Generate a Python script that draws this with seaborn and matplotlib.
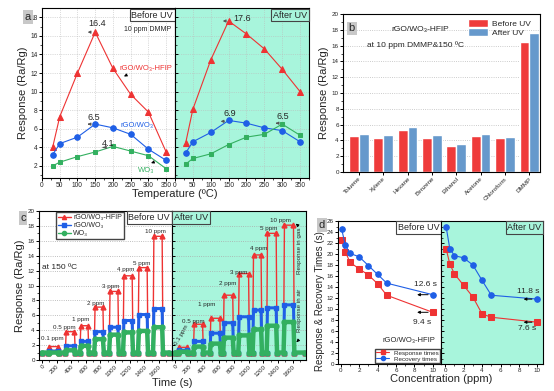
import numpy as np
import pandas as pd
import matplotlib
matplotlib.use("Agg")
import matplotlib.pyplot as plt
from matplotlib.lines import Line2D
from matplotlib.patches import Patch
import seaborn as sns

# --- panel a: response vs. operating temperature (10 ppm DMMP) ---
temps = [30, 50, 100, 150, 200, 250, 300, 350]
a_before_hfip = [4.0, 7.3, 12.0, 16.4, 12.5, 9.7, 7.8, 3.5]
a_before_rgo = [3.2, 4.4, 5.1, 6.5, 6.1, 5.4, 3.8, 2.6]
a_before_wo3 = [2.0, 2.4, 3.0, 3.5, 4.1, 3.6, 3.1, 1.7]
a_after_hfip = [4.5, 8.1, 13.4, 17.6, 16.2, 14.6, 12.4, 10.0]
a_after_rgo = [3.4, 4.6, 5.6, 6.9, 6.6, 6.1, 5.8, 4.6]
a_after_wo3 = [2.2, 2.8, 3.3, 4.3, 5.1, 5.4, 6.5, 5.3]

# --- panel b: selectivity at 10 ppm, 150 C ---
gases = ['Toluene', 'Xylene', 'Hexane', 'Benzene', 'Ethanol', 'Acetone', 'Chloroform', 'DMMP']
b_before = [4.55, 4.35, 5.35, 4.35, 3.25, 4.55, 4.25, 16.4]
b_after = [4.85, 4.65, 5.65, 4.65, 3.5, 4.75, 4.45, 17.6]

# --- panel c: dynamic response, pulses of 0.1 ... 10 ppm ---
c_conc = ['0.1 ppm', '0.5 ppm', '1 ppm', '2 ppm', '3 ppm', '4 ppm', '5 ppm', '10 ppm']
c_base = 1.0
c_before_on = [90, 320, 520, 715, 920, 1110, 1315, 1520]
c_before_off = [215, 445, 630, 835, 1040, 1235, 1440, 1645]
c_before_hfip = [1.8, 3.8, 4.6, 7.1, 9.2, 11.3, 12.4, 16.6]
c_before_rgo = [1.2, 1.9, 2.5, 3.8, 4.4, 5.3, 6.1, 6.9]
c_before_wo3 = [1.0, 1.3, 1.9, 2.8, 3.4, 3.7, 3.9, 4.4]
c_after_on = [45, 250, 475, 655, 860, 1055, 1245, 1475]
c_after_off = [170, 375, 610, 785, 1000, 1170, 1375, 1610]
c_after_hfip = [1.7, 4.8, 5.6, 8.7, 11.6, 14.1, 17.0, 18.1]
c_after_rgo = [1.3, 2.5, 3.6, 5.0, 5.8, 6.7, 7.0, 7.4]
c_after_wo3 = [1.1, 1.8, 2.2, 3.0, 3.3, 4.1, 4.6, 5.1]

# --- panel d: response / recovery times ---
conc = [0.1, 0.5, 1, 2, 3, 4, 5, 10]
d_before_resp = [22.5, 20.4, 18.5, 17.3, 16.2, 14.6, 12.5, 9.4]
d_before_rec = [24.5, 21.6, 20.1, 19.5, 17.9, 16.3, 14.7, 12.6]
d_after_resp = [21.0, 18.2, 16.4, 14.3, 12.2, 9.1, 8.5, 7.6]
d_after_rec = [25.0, 21.0, 19.7, 19.3, 18.0, 15.2, 12.5, 11.8]

RED = '#ee3333'
BLUE = '#1f5fe6'
GREEN = '#33b060'
BAR_RED = '#ef3b3b'
BAR_BLUE = '#6699cc'
MINT = '#a8f5dc'

sns.set_theme(style='ticks')
plt.rcParams['font.family'] = ['Liberation Sans', 'DejaVu Sans']
plt.rcParams['axes.linewidth'] = 0.8
plt.rcParams['xtick.major.width'] = 0.7
plt.rcParams['ytick.major.width'] = 0.7
plt.rcParams['xtick.minor.width'] = 0.5
plt.rcParams['ytick.minor.width'] = 0.5
plt.rcParams['axes.edgecolor'] = 'black'

fig = plt.figure(figsize=(5.54, 3.91), dpi=100)


def px_axes(x0, y0, x1, y1):
    # pixel box (top-left origin) -> figure axes
    return fig.add_axes([x0 / 554, 1 - y1 / 391, (x1 - x0) / 554, (y1 - y0) / 391])


def style(ax, fs=5.0, inner=False):
    ax.tick_params(axis='both', which='major', labelsize=fs, length=2.0, pad=1.0, color='black')
    ax.tick_params(axis='both', which='minor', length=1.2, color='black')
    if inner:
        ax.tick_params(axis='y', which='both', direction='in', labelleft=False)
    for s in ax.spines.values():
        s.set_visible(True)
        s.set_color('black')


def uv_box(ax, x, y, text, fc, ha='right'):
    ax.text(x, y, text, transform=ax.transAxes, ha=ha, va='top', fontsize=6.5,
            bbox=dict(boxstyle='square,pad=0.2', fc=fc, ec='#444444', lw=0.8), zorder=10)


def panel_tag(x, y, letter):
    fig.text(x / 554, 1 - y / 391, letter, ha='center', va='center', fontsize=8,
             bbox=dict(boxstyle='square,pad=0.15', fc='#c8c8c8', ec='none'))


def arrow(ax, tail, head, color='#555555'):
    ax.annotate('', xy=head, xytext=tail,
                arrowprops=dict(arrowstyle='-|>', color=color, lw=0.7, mutation_scale=4))


# ================= panel a =================
axa1 = px_axes(42, 8, 175, 178)
axa2 = px_axes(175, 8, 309, 178)
axa2.set_facecolor(MINT)
for ax, h, r, w in [(axa1, a_before_hfip, a_before_rgo, a_before_wo3),
                    (axa2, a_after_hfip, a_after_rgo, a_after_wo3)]:
    sns.lineplot(x=temps, y=h, ax=ax, color=RED, marker='^', markersize=4.5, lw=0.8,
                 markeredgecolor=RED)
    sns.lineplot(x=temps, y=r, ax=ax, color=BLUE, marker='o', markersize=4, lw=0.8,
                 markeredgecolor=BLUE)
    sns.lineplot(x=temps, y=w, ax=ax, color=GREEN, marker='s', markersize=3.5, lw=0.8,
                 markeredgecolor=GREEN)
    ax.set_xlim(0, 375)
    ax.set_ylim(0.7, 19)
    ax.set_xticks(range(0, 351, 50))
    ax.set_xticks(range(25, 376, 50), minor=True)
    ax.set_yticks(range(2, 19, 2))
    ax.set_yticks(range(1, 19, 2), minor=True)
    ax.grid(True, which='major', color='#bbbbbb', ls=':', lw=0.5)
    ax.set_xlabel('')
    ax.set_ylabel('')
style(axa1, fs=4.8)
style(axa2, fs=4.8, inner=True)
axa1.set_ylabel('Response (Ra/Rg)', fontsize=8, labelpad=2)
fig.text(175 / 554, 1 - 194 / 391, 'Temperature (\u00baC)', ha='center', va='center', fontsize=8)
panel_tag(28, 17, 'a')
uv_box(axa1, 0.985, 0.985, 'Before UV', 'white')
uv_box(axa2, 0.985, 0.985, 'After UV', MINT)
axa1.text(298, 16.7, '10 ppm DMMP', ha='center', va='center', fontsize=5)
axa1.text(155, 17.3, '16.4', ha='center', va='center', fontsize=6.5)
arrow(axa1, (144, 16.4), (121, 16.4))
axa1.text(147, 7.2, '6.5', ha='center', va='center', fontsize=6.5)
arrow(axa1, (141, 6.5), (121, 6.5))
axa1.text(186, 4.45, '4.1', ha='center', va='center', fontsize=6.5)
arrow(axa1, (180, 4.0), (164, 4.0))
axa1.text(293, 12.5, 'rGO/WO\u2083-HFIP', ha='center', va='center', fontsize=5.5, color=RED)
arrow(axa1, (245, 11.9), (224, 11.5), color='black')
axa1.text(268, 6.4, 'rGO/WO\u2083', ha='center', va='center', fontsize=5.5, color=BLUE)
axa1.text(293, 1.5, 'WO\u2083', ha='center', va='center', fontsize=5.5, color=GREEN)
arrow(axa1, (322, 2.5), (300, 2.2), color='black')
axa2.text(188, 17.9, '17.6', ha='center', va='center', fontsize=6.5)
arrow(axa2, (148, 17.6), (126, 17.6))
axa2.text(154, 7.6, '6.9', ha='center', va='center', fontsize=6.5)
arrow(axa2, (146, 6.8), (120, 6.8))
axa2.text(302, 7.3, '6.5', ha='center', va='center', fontsize=6.5)
arrow(axa2, (294, 6.6), (274, 6.6))

# ================= panel b =================
axb = px_axes(343, 14, 540, 172)
dfb = pd.DataFrame({'gas': gases * 2,
                    'response': b_before + b_after,
                    'state': ['Before UV'] * len(gases) + ['After UV'] * len(gases)})
sns.barplot(data=dfb, x='gas', y='response', hue='state', ax=axb,
            palette=[BAR_RED, BAR_BLUE], width=0.8, saturation=1, legend=False)
axb.set_xlim(-0.65, 7.44)
axb.set_ylim(0, 20)
axb.set_yticks(range(0, 21, 2))
axb.set_yticks(range(1, 20, 2), minor=True)
axb.yaxis.grid(True, color='#bbbbbb', ls=':', lw=0.6)
axb.set_axisbelow(True)
style(axb, fs=4.5)
axb.set_xticks(range(len(gases)))
axb.set_xticklabels(gases, rotation=45, ha='right', rotation_mode='anchor', fontsize=4.5)
axb.set_xlabel('')
axb.set_ylabel('Response (Ra/Rg)', fontsize=8, labelpad=2)
axb.legend(handles=[Patch(fc=BAR_RED, label='Before UV'), Patch(fc=BAR_BLUE, label='After UV')],
           loc='upper left', bbox_to_anchor=(0.61, 1.0), frameon=False, fontsize=6,
           handlelength=2.4, handleheight=1.1, labelspacing=0.0, borderaxespad=0.2,
           handletextpad=0.4)
axb.text(0.39, 0.90, 'rGO/WO\u2083-HFIP', transform=axb.transAxes, ha='center', va='center', fontsize=6)
axb.text(0.37, 0.80, 'at 10 ppm DMMP&150 \u00baC', transform=axb.transAxes, ha='center',
         va='center', fontsize=6)
axb.text(0.045, 0.91, 'b', transform=axb.transAxes, ha='center', va='center', fontsize=8,
         bbox=dict(boxstyle='square,pad=0.15', fc='#c8c8c8', ec='none'))


# ================= panel c =================
def pulse_trace(on, off, peaks, end):
    t, y = [0], [c_base]
    for t0, t1, p in zip(on, off, peaks):
        t += [t0, t0 + 12, t1, t1 + 12]
        y += [c_base, p, p, c_base]
    t.append(end)
    y.append(c_base)
    return t, y


axc1 = px_axes(39, 211, 172, 360)
axc2 = px_axes(172, 211, 306, 360)
axc2.set_facecolor(MINT)
for ax, on, off, h, r, w, end in [
        (axc1, c_before_on, c_before_off, c_before_hfip, c_before_rgo, c_before_wo3, 1740),
        (axc2, c_after_on, c_after_off, c_after_hfip, c_after_rgo, c_after_wo3, 1760)]:
    for vals, col, mk, lw, ms in [(h, RED, '^', 1.0, 3.5), (r, BLUE, 's', 2.2, 3.0),
                                  (w, GREEN, 'o', 3.2, 3.5)]:
        t, y = pulse_trace(on, off, vals, end)
        ax.plot(t, y, color=col, lw=lw, marker=mk, ms=ms, mec=col, solid_joinstyle='round')
    ax.set_xlim(-40, 1780)
    ax.set_ylim(0, 20)
    ax.set_xticks(range(0, 1601, 200))
    ax.set_xticks(range(100, 1800, 200), minor=True)
    ax.set_yticks(range(0, 21, 2))
    ax.set_yticks(range(1, 20, 2), minor=True)
    ax.yaxis.grid(True, color='#aaaaaa', ls=':', lw=0.6)
    ax.set_axisbelow(True)
style(axc1, fs=4.5)
style(axc2, fs=4.5, inner=True)
for ax in (axc1, axc2):
    ax.set_xticklabels([str(v) for v in range(0, 1601, 200)], rotation=45, ha='right',
                       rotation_mode='anchor', fontsize=4.5)
axc1.set_ylabel('Response (Ra/Rg)', fontsize=8, labelpad=2)
fig.text(172 / 554, 1 - 383 / 391, 'Time (s)', ha='center', va='center', fontsize=8)
panel_tag(23, 218, 'c')
uv_box(axc1, 0.985, 0.985, 'Before UV', 'white')
uv_box(axc2, 0.015, 0.985, 'After UV', MINT, ha='left')
axc1.legend(handles=[Line2D([], [], color=RED, marker='^', ms=3, lw=1, label='rGO/WO\u2083-HFIP'),
                     Line2D([], [], color=BLUE, marker='s', ms=2.5, lw=1, label='rGO/WO\u2083'),
                     Line2D([], [], color=GREEN, marker='o', ms=3, lw=1, label='WO\u2083')],
            loc='upper left', bbox_to_anchor=(0.12, 1.0), fontsize=5, frameon=True,
            fancybox=False, edgecolor='#444444', framealpha=1, handlelength=1.8,
            labelspacing=0.15, borderpad=0.3, borderaxespad=0.15, handletextpad=0.4)
axc1.text(240, 12.4, 'at 150 \u00baC', ha='center', va='center', fontsize=6)
before_lab = [(137, 2.95), (301, 4.4), (534, 5.4), (733, 7.65), (939, 9.9), (1151, 12.1),
              (1363, 13.0), (1555, 17.3)]
for (tx, ty), s in zip(before_lab, c_conc):
    axc1.text(tx, ty, s, ha='center', va='center', fontsize=4.5)
after_lab = [(245, 5.2), (435, 7.5), (713, 10.3), (870, 11.8), (1141, 14.9),
             (1277, 17.6), (1427, 18.7)]
axc2.text(95, 3.3, c_conc[0], ha='center', va='center', fontsize=4.5, rotation=60)
for (tx, ty), s in zip(after_lab, c_conc[1:]):
    axc2.text(tx, ty, s, ha='center', va='center', fontsize=4.5)
axc2.text(1690, 14.6, 'Response in gas', ha='center', va='center', fontsize=4.5, rotation=90)
axc2.text(1690, 6.6, 'Response in air', ha='center', va='center', fontsize=4.5, rotation=90)
arrow(axc2, (1690, 17.9), (1640, 18.3), color='black')
arrow(axc2, (1690, 2.8), (1625, 2.1), color='black')

# ================= panel d =================
axd1 = px_axes(338, 221, 441, 364)
axd2 = px_axes(441, 221, 543, 364)
axd2.set_facecolor(MINT)
for ax, resp, rec in [(axd1, d_before_resp, d_before_rec), (axd2, d_after_resp, d_after_rec)]:
    sns.lineplot(x=conc, y=resp, ax=ax, color=RED, marker='s', markersize=4, lw=0.8,
                 markeredgecolor=RED)
    sns.lineplot(x=conc, y=rec, ax=ax, color=BLUE, marker='o', markersize=4, lw=0.8,
                 markeredgecolor=BLUE)
    ax.set_ylim(0, 26)
    ax.set_xticks(range(0, 11, 2))
    ax.set_xticks(range(1, 11, 2), minor=True)
    ax.set_yticks(range(0, 27, 2))
    ax.set_yticks(range(1, 26, 2), minor=True)
    ax.set_xlabel('')
    ax.set_ylabel('')
axd1.set_xlim(-0.3, 10.9)
axd2.set_xlim(-0.45, 10.6)
style(axd1, fs=4.5)
style(axd2, fs=4.5, inner=True)
axd1.set_ylabel('Response & Recovery Times (s)', fontsize=7)
axd1.yaxis.set_label_coords(-0.13, 0.44)
fig.text(441 / 554, 1 - 379 / 391, 'Concentration (ppm)', ha='center', va='center', fontsize=8)
panel_tag(322, 225, 'd')
uv_box(axd1, 0.985, 0.985, 'Before UV', 'white')
uv_box(axd2, 0.985, 0.985, 'After UV', MINT)
axd1.text(9.2, 14.4, '12.6 s', ha='center', va='center', fontsize=6)
arrow(axd1, (9.8, 12.6), (8.0, 12.6), color='black')
axd1.text(8.85, 7.6, '9.4 s', ha='center', va='center', fontsize=6)
arrow(axd1, (9.8, 9.4), (8.0, 9.4), color='black')
axd2.text(9.0, 13.2, '11.8 s', ha='center', va='center', fontsize=6)
arrow(axd2, (9.7, 11.8), (8.2, 11.8), color='black')
axd2.text(8.9, 6.4, '7.6 s', ha='center', va='center', fontsize=6)
arrow(axd2, (9.7, 7.6), (8.2, 7.6), color='black')
axd1.text(7.4, 4.2, 'rGO/WO\u2083-HFIP', ha='center', va='center', fontsize=5.5)
axd1.legend(handles=[Line2D([], [], color=RED, marker='s', ms=3, lw=0.8, label='Response times'),
                     Line2D([], [], color=BLUE, marker='o', ms=3, lw=0.8, label='Recovery times')],
            loc='lower right', bbox_to_anchor=(1.0, 0.0), fontsize=4.5, frameon=True,
            fancybox=False, edgecolor='#444444', framealpha=1, handlelength=2.0,
            labelspacing=0.1, borderpad=0.25, borderaxespad=0.15)

fig.savefig('out.png', dpi=100)
